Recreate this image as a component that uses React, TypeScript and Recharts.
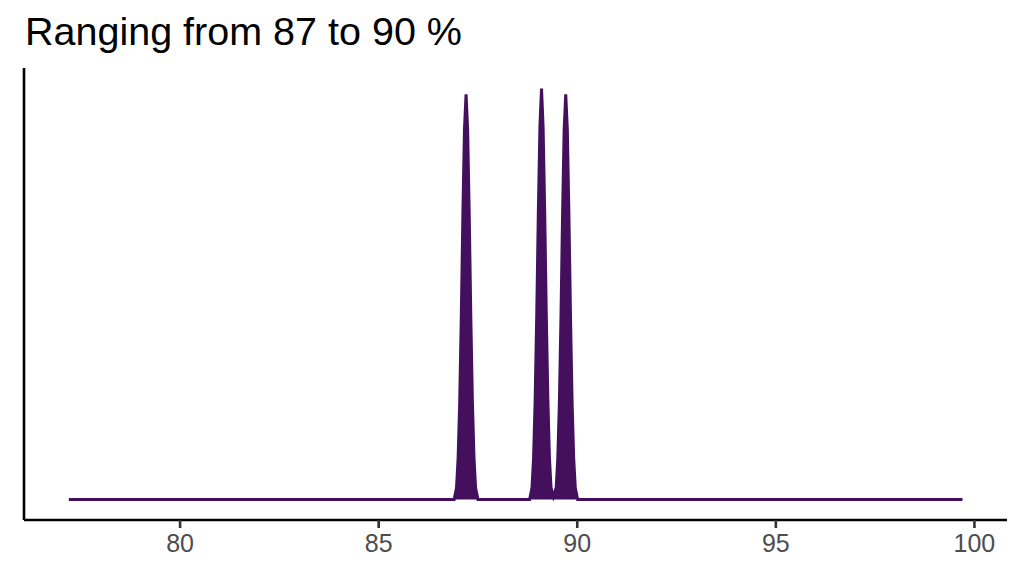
import { AreaChart, Area, XAxis, YAxis } from "recharts";

// density curve (x in %, y in density units)
const densityX = [
  77.2, 86.9, 86.96, 87.0, 87.04, 87.08, 87.12, 87.16, 87.2, 87.24, 87.28, 87.32, 87.36, 87.4, 87.44, 87.5,
  88.8, 88.86, 88.9, 88.94, 88.98, 89.02, 89.06, 89.1, 89.14, 89.18, 89.22, 89.26, 89.3, 89.34, 89.4,
  89.47, 89.51, 89.55, 89.59, 89.63, 89.67, 89.71, 89.75, 89.79, 89.83, 89.87, 89.91, 89.95, 90.01, 99.7,
];
const densityY = [
  0, 0, 0.04, 0.14, 0.33, 0.62, 0.97, 1.26, 1.38, 1.26, 0.97, 0.62, 0.33, 0.14, 0.04, 0,
  0, 0.04, 0.14, 0.34, 0.63, 0.98, 1.27, 1.4, 1.27, 0.98, 0.63, 0.34, 0.14, 0.04, 0.01,
  0.04, 0.14, 0.33, 0.62, 0.97, 1.26, 1.38, 1.26, 0.97, 0.62, 0.33, 0.14, 0.04, 0, 0,
];
const xTicks = [80, 85, 90, 95, 100];
const title = "Ranging from 87 to 90 %";

const data = densityX.map((x, i) => ({ x, density: densityY[i] }));

const FONT = '"Liberation Sans", Arial, Helvetica, sans-serif';
const PURPLE = "#440f5c";

export default function App() {
  return (
    <div style={{ position: "absolute", left: 0, top: 0, width: 1024, height: 576, background: "#fff", fontFamily: FONT }}>
      <div style={{ position: "absolute", left: 25, top: 12, fontSize: 39.5, lineHeight: 1, color: "#000" }}>{title}</div>
      <AreaChart width={1024} height={576} data={data} margin={{ top: 68, right: 17, bottom: 0, left: 20 }}>
        <XAxis
          dataKey="x"
          type="number"
          domain={[76.07, 100.82]}
          allowDataOverflow
          ticks={xTicks}
          height={56}
          tickSize={8}
          tickMargin={6}
          stroke="#000"
          strokeWidth={2.6}
          tickLine={{ stroke: "#333333", strokeWidth: 2.6 }}
          tick={{ fill: "#4d4d4d", fontSize: 25, fontFamily: FONT }}
        />
        <YAxis
          type="number"
          domain={[-0.07, 1.47]}
          allowDataOverflow
          width={4}
          tick={false}
          tickLine={false}
          axisLine={{ stroke: "#000", strokeWidth: 2.6 }}
        />
        <Area
          dataKey="density"
          type="linear"
          stroke={PURPLE}
          strokeWidth={3}
          fill={PURPLE}
          fillOpacity={1}
          isAnimationActive={false}
        />
      </AreaChart>
    </div>
  );
}
